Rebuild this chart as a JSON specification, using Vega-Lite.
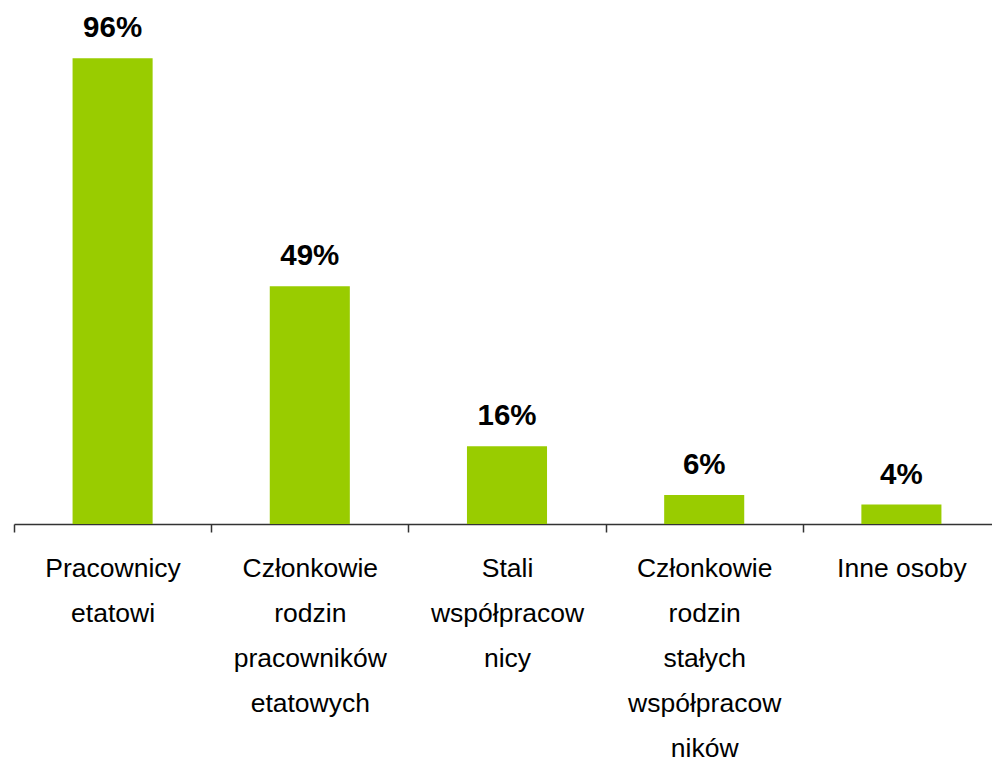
{
  "$schema": "https://vega.github.io/schema/vega-lite/v6.json",
  "autosize": {"type": "none"},
  "width": 978,
  "height": 524,
  "padding": {"left": 14, "top": 0, "right": 0, "bottom": 236},
  "background": "white",
  "config": {"view": {"stroke": null}, "font": "Liberation Sans"},
  "data": {"values": [
    {"kategoria": "Pracownicy|etatowi", "procent": 96, "etykieta": "96%"},
    {"kategoria": "Członkowie|rodzin|pracowników|etatowych", "procent": 49, "etykieta": "49%"},
    {"kategoria": "Stali|współpracow|nicy", "procent": 16, "etykieta": "16%"},
    {"kategoria": "Członkowie|rodzin|stałych|współpracow|ników", "procent": 6, "etykieta": "6%"},
    {"kategoria": "Inne osoby", "procent": 4, "etykieta": "4%"}
  ]},
  "encoding": {
    "x": {
      "field": "kategoria", "type": "nominal", "sort": null,
      "scale": {"range": [0, 986], "paddingInner": 0, "paddingOuter": 0},
      "axis": {
        "title": null, "labelAngle": 0,
        "labelExpr": "isValid(datum.value) ? split(datum.value, '|') : ''",
        "labelFont": "Liberation Sans", "labelFontSize": 26.5, "labelColor": "black",
        "labelLineHeight": 45, "labelPadding": 23, "labelBaseline": "top",
        "tickBand": "extent", "tickSize": 8, "tickColor": "#333333", "tickWidth": 1.5,
        "domainColor": "#333333", "domainWidth": 1.5, "grid": false
      }
    },
    "y": {
      "field": "procent", "type": "quantitative",
      "scale": {"domain": [0, 108], "nice": false},
      "axis": null
    }
  },
  "layer": [
    {"mark": {"type": "bar", "color": "#99CC00", "width": {"band": 0.406}}},
    {"mark": {"type": "text", "baseline": "middle", "dy": -30, "fontSize": 29.5, "fontWeight": "bold", "font": "Liberation Sans", "color": "black"},
     "encoding": {"text": {"field": "etykieta"}}}
  ]
}
